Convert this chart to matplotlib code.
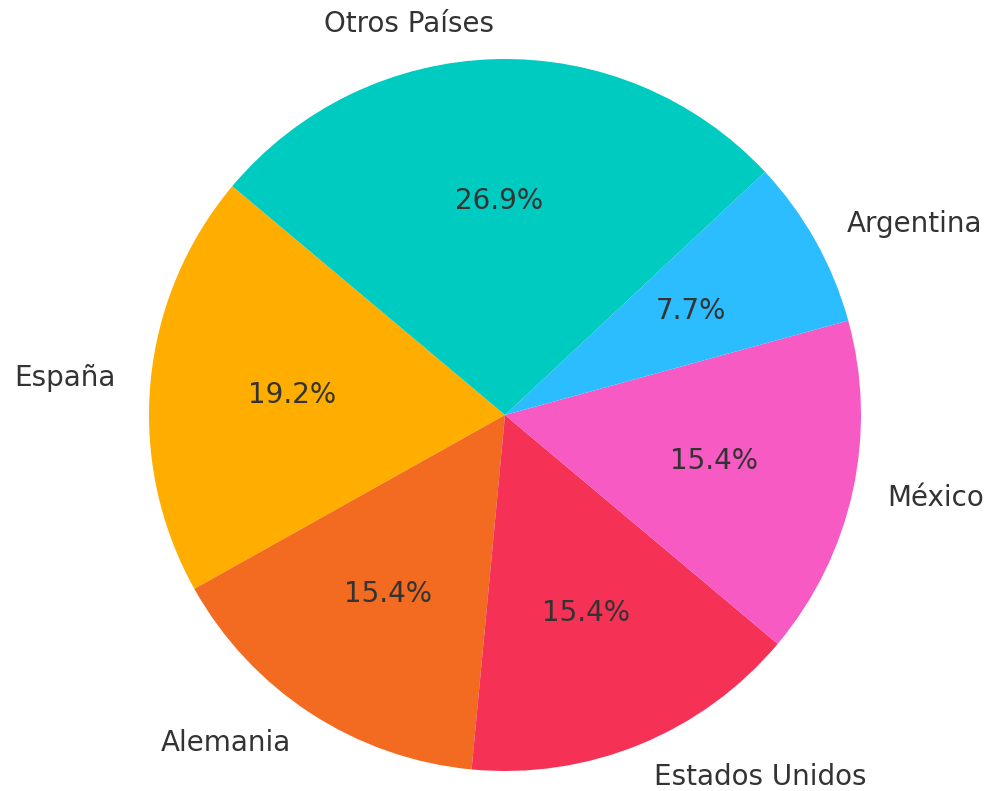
import matplotlib.pyplot as plt

# Data
labels = ['España', 'Alemania', 'Estados Unidos', 'México', 'Argentina', 'Otros Países']
sizes = [5, 4, 4, 4, 2, 7]
colors = ['#FFAE00', '#F26B21', '#F53255', '#F85AC4', '#2BBDFF', '#00CBC0']

W, H = 989, 791
fig = plt.figure(figsize=(W / 100, H / 100), dpi=100)

# place the pie: center (505, 415) px, radius 356 px
r = 356.0
a = 1.4
size = 2 * a * r
cx, cy = 505, H - 415
ax = fig.add_axes([(cx - size / 2) / W, (cy - size / 2) / H, size / W, size / H])

ax.pie(sizes, labels=labels, colors=colors, autopct='%1.1f%%', startangle=140,
       textprops={'fontsize': 20, 'color': '#333333'})
ax.set_xlim(-a, a)
ax.set_ylim(-a, a)
ax.set_aspect('auto')
ax.axis('off')

fig.savefig('out.png', dpi=100)
